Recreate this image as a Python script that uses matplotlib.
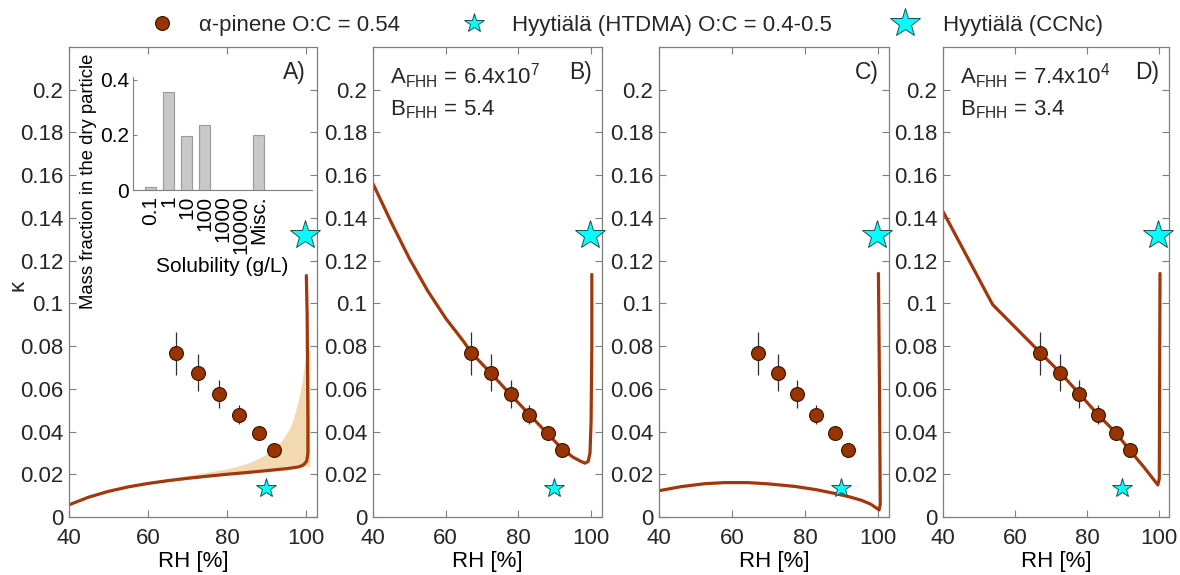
import numpy as np
import matplotlib
matplotlib.use('Agg')
import matplotlib.pyplot as plt
from matplotlib.lines import Line2D

plt.rcParams['font.family'] = ['Liberation Sans', 'DejaVu Sans']
plt.rcParams['mathtext.fontset'] = 'custom'
plt.rcParams['mathtext.rm'] = 'Liberation Sans'
plt.rcParams['mathtext.it'] = 'Liberation Sans:italic'
plt.rcParams['font.size'] = 16
plt.rcParams['text.color'] = '#262626'

# alpha-pinene SOA measurements
rh_ap = [67.0, 72.6, 77.9, 83.0, 88.1, 91.9]
kappa_ap = [0.0767, 0.0676, 0.0575, 0.0478, 0.0394, 0.0312]
kappa_ap_err = [0.0100, 0.0085, 0.0065, 0.0045, 0.0025, 0.0015]

# Hyytiala field data
rh_htdma = [89.8]
kappa_htdma = [0.0138]
rh_ccnc = [99.7]
kappa_ccnc = [0.132]

# A) model, volatility distribution
rh_a = [40, 45, 50, 55, 60, 65, 70, 75, 80, 85, 90, 95, 98, 99, 99.7, 100.2, 100.5, 100.5, 100.4, 100.3, 100.1]
kappa_a = [0.0057, 0.0093, 0.0120, 0.0141, 0.0157, 0.0170, 0.0181, 0.0191, 0.0200, 0.0208, 0.0217,
           0.0226, 0.0234, 0.0240, 0.0250, 0.0262, 0.0300, 0.0450, 0.0700, 0.0950, 0.1130]
rh_band = [55, 60, 70, 80, 85, 88, 90, 92, 94, 96, 97, 98, 99, 99.6, 100.2, 101.0]
band_lo = [0.0138, 0.0154, 0.0178, 0.0197, 0.0205, 0.0210, 0.0214, 0.0218, 0.0222, 0.0226,
           0.0228, 0.0230, 0.0235, 0.0238, 0.0238, 0.0236]
band_hi = [0.0142, 0.0163, 0.0195, 0.0225, 0.0250, 0.0275, 0.0295, 0.0320, 0.0360, 0.0420,
           0.0470, 0.0540, 0.0630, 0.0710, 0.0780, 0.0780]

# B) FHH fit
rh_b = [40, 45, 50, 55, 60, 65, 67, 72.6, 78, 83, 88, 92, 95, 97, 98.3, 99.2, 99.7, 100.0, 100.2, 100.2]
kappa_b = [0.156, 0.138, 0.121, 0.106, 0.093, 0.082, 0.077, 0.067, 0.057, 0.048, 0.039, 0.032,
           0.028, 0.0262, 0.0252, 0.026, 0.030, 0.045, 0.080, 0.1135]

# C) model
rh_c = [40, 46, 52.6, 58, 64.4, 70, 77.3, 83, 88.2, 92, 95.5, 98, 100.3, 100.6, 100.4, 100.1]
kappa_c = [0.0123, 0.0142, 0.0156, 0.0161, 0.0161, 0.0155, 0.0143, 0.0128, 0.0110, 0.0095,
           0.0078, 0.0060, 0.0033, 0.0060, 0.0600, 0.1140]

# D) FHH fit
rh_d = [40, 53.8, 60, 67, 72.6, 78, 83, 88, 92, 96, 99.7, 100.1, 100.3]
kappa_d = [0.143, 0.0994, 0.0889, 0.077, 0.0675, 0.0575, 0.048, 0.0395, 0.031, 0.023, 0.015, 0.018, 0.114]

# inset: solubility distribution
sol_labels = ['0.1', '1', '10', '100', '1000', '10000', 'Misc.']
mass_frac = [0.012, 0.355, 0.195, 0.237, 0.0, 0.0, 0.200]

panel_letters = ['A)', 'B)', 'C)', 'D)']
fhh_text = {1: ('6.4x10$^{7}$', '5.4'), 3: ('7.4x10$^{4}$', '3.4')}

line_col = '#A1380C'
dot_col = '#993300'
star_col = '#00FFFF'
band_col = '#F3D9B1'
spine_col = '#7F7F7F'

W, H = 1180, 575
fig = plt.figure(figsize=(W / 100, H / 100), dpi=100)

# axes boxes in pixels (left, right) and x upper limit
boxes = [(69, 317, 102.8), (373, 602, 103.0), (659, 889, 103.0), (943, 1169, 102.8)]
top_px, bot_px = 47, 517
curves = [(rh_a, kappa_a), (rh_b, kappa_b), (rh_c, kappa_c), (rh_d, kappa_d)]

yt = np.round(np.arange(0, 0.201, 0.02), 2)
for i, (l, r, xmax) in enumerate(boxes):
    ax = fig.add_axes([l / W, 1 - bot_px / H, (r - l) / W, (bot_px - top_px) / H])
    if i == 0:
        ax.fill_between(rh_band, band_lo, band_hi, color=band_col, lw=0, zorder=1)
    ax.plot(curves[i][0], curves[i][1], color=line_col, lw=2.3, zorder=2, solid_capstyle='round')
    ax.errorbar(rh_ap, kappa_ap, yerr=kappa_ap_err, fmt='none', ecolor='#303030', elinewidth=0.9, zorder=3)
    ax.plot(rh_ap, kappa_ap, 'o', ms=10, mfc=dot_col, mec='#3a1500', mew=0.8, zorder=4)
    ax.plot(rh_htdma, kappa_htdma, '*', ms=15, mfc=star_col, mec='#205050', mew=0.7, zorder=4)
    ax.plot(rh_ccnc, kappa_ccnc, '*', ms=22, mfc=star_col, mec='#205050', mew=0.7, zorder=4,
            clip_on=False)

    ax.set_xlim(40, xmax)
    ax.set_ylim(0, 0.22)
    ax.set_xticks([40, 60, 80, 100])
    ax.set_yticks(yt)
    ax.set_yticklabels(['%g' % v for v in yt])
    ax.tick_params(direction='in', top=True, right=True, length=5, width=0.8,
                   color=spine_col, labelcolor='#262626', labelsize=16, pad=4)
    ax.tick_params(axis='x', pad=8)
    for s in ax.spines.values():
        s.set_color(spine_col)
        s.set_linewidth(0.9)
    ax.set_xlabel('RH [%]', fontsize=16, labelpad=1)
    ax.text(0.955, 0.945, panel_letters[i], transform=ax.transAxes, ha='right', va='center', fontsize=16.5)
    if i in fhh_text:
        a_val, b_val = fhh_text[i]
        ax.text(0.075, 0.937, r'A$_{\mathrm{FHH}}$ = ' + a_val, transform=ax.transAxes,
                ha='left', va='center', fontsize=16)
        ax.text(0.075, 0.866, r'B$_{\mathrm{FHH}}$ = ' + b_val, transform=ax.transAxes,
                ha='left', va='center', fontsize=16)

fig.text(18 / W, 1 - 285 / H, 'κ', rotation=90, ha='center', va='center', fontsize=16)

# inset bar chart in panel A
ins = fig.add_axes([133 / W, 1 - 190 / H, 179 / W, 113 / H])
ins.patch.set_alpha(0)
xpos = np.arange(1, len(sol_labels) + 1)
ins.bar(xpos, mass_frac, width=0.62, color='#C8C8C8', edgecolor='#9A9A9A', lw=0.8)
ins.set_xlim(0, 10)
ins.set_ylim(0, 0.41)
ins.set_yticks([0, 0.2, 0.4])
ins.set_yticklabels(['0', '0.2', '0.4'])
ins.set_xticks(xpos)
ins.set_xticklabels(sol_labels, rotation=90)
ins.tick_params(direction='in', length=3, color=spine_col, labelsize=15, pad=3)
ins.tick_params(axis='x', length=0, pad=4)
for side in ['top', 'right']:
    ins.spines[side].set_visible(False)
for side in ['left', 'bottom']:
    ins.spines[side].set_color(spine_col)
ins.set_xlabel('Solubility (g/L)', fontsize=15, labelpad=2)
ins.set_ylabel('Mass fraction in the dry particle', fontsize=13.3, labelpad=3)
ins.yaxis.set_label_coords(-0.20, 0.08)

handles = [
    Line2D([], [], ls='none', marker='o', ms=10, mfc=dot_col, mec='#3a1500', mew=0.8),
    Line2D([], [], ls='none', marker='*', ms=15, mfc=star_col, mec='#205050', mew=0.7),
    Line2D([], [], ls='none', marker='*', ms=22, mfc=star_col, mec='#205050', mew=0.7),
]
labels = ['α-pinene O:C = 0.54', 'Hyytiälä (HTDMA) O:C = 0.4-0.5', 'Hyytiälä (CCNc)']
fig.legend(handles, labels, loc='center', bbox_to_anchor=(0.530, 1 - 25 / H), ncol=3,
           frameon=False, fontsize=16, handlelength=1.2, handletextpad=1.1, columnspacing=2.7)

fig.savefig('out.png', dpi=100)
